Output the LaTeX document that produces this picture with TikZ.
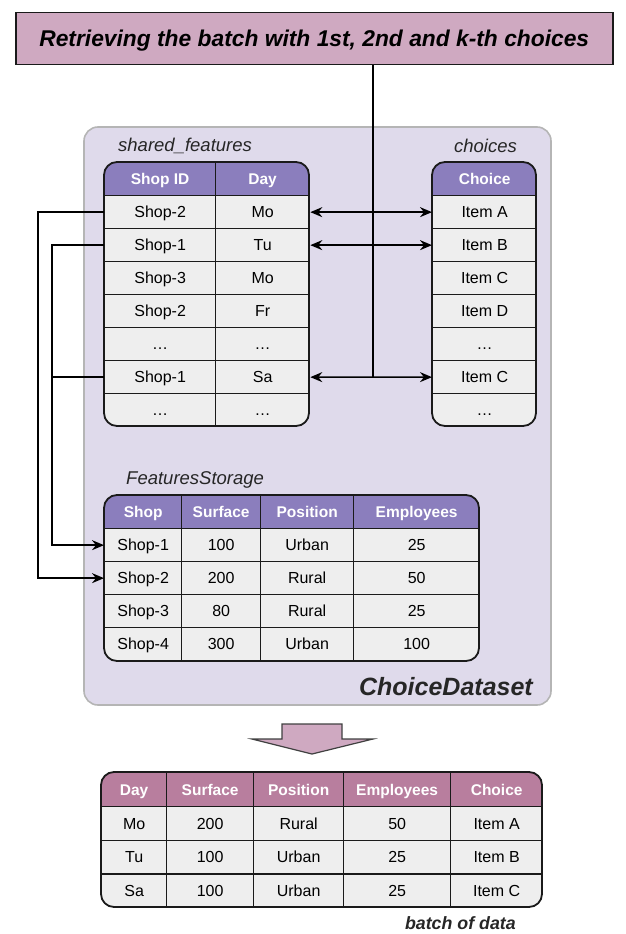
\documentclass[tikz,border=0pt]{standalone}
\usepackage{fontspec}
\setmainfont{Liberation Sans}
\usetikzlibrary{arrows.meta}
\definecolor{titlefill}{HTML}{CFA9C1}
\definecolor{dsfill}{HTML}{DFDAEB}
\definecolor{dsborder}{HTML}{B5B5B5}
\definecolor{hdrpurple}{HTML}{8B7EBD}
\definecolor{hdrmauve}{HTML}{B87E9E}
\definecolor{cellfill}{HTML}{EEEEEE}
\definecolor{linecol}{HTML}{1A1A1A}
\tikzset{
  cell/.style={draw=linecol, line width=1.3pt, fill=cellfill, inner sep=0pt, anchor=north west,
    text height=11.5pt, text depth=0pt,
    font=\fontsize{16}{19}\selectfont, text=black},
  hdrp/.style={cell, fill=hdrpurple, text=white, font=\fontsize{15.5}{19}\selectfont\bfseries},
  hdrm/.style={cell, fill=hdrmauve, text=white, font=\fontsize{15.5}{19}\selectfont\bfseries},
  tblborder/.style={draw=linecol, line width=1.8pt, rounded corners=13pt},
  conn/.style={draw=black, line width=1.5pt},
  tip/.style={-{Stealth[length=12pt,width=10pt,inset=4pt]}},
  dtip/.style={{Stealth[length=12pt,width=10pt,inset=4pt]}-{Stealth[length=12pt,width=10pt,inset=4pt]}},
  lbl/.style={inner sep=0pt, font=\fontsize{18.5}{22}\selectfont\itshape, text=black!85},
  biglbl/.style={inner sep=0pt, font=\fontsize{25}{30}\selectfont\bfseries\itshape, text=black!85},
}
\begin{document}
\begin{tikzpicture}[x=1pt,y=-1pt]
\useasboundingbox (0,0) rectangle (626,934);
% title
\node[draw=linecol, line width=1.5pt, fill=titlefill, minimum width=597pt, minimum height=52pt,
  inner sep=0pt, anchor=north west, text height=16pt, text depth=0pt,
  font=\fontsize{22.8}{27}\selectfont\bfseries\itshape] (title) at (15,12)
  {Retrieving the batch with 1st, 2nd and k-th choices};
% dataset box
\draw[fill=dsfill, draw=dsborder, line width=1.6pt, rounded corners=14pt] (84,127) rectangle (551,705);
\node[lbl, anchor=west] (sflbl) at (118,146) {shared\_features};
\node[lbl, anchor=east] (chlbl) at (517,146) {choices};
\node[lbl, anchor=west] (fslbl) at (126,480) {FeaturesStorage};
\node[biglbl, anchor=east] (dslbl) at (533,687) {ChoiceDataset};
% shared_features table
\begin{scope}
\clip[rounded corners=13pt] (104,162) rectangle (309,426);
\node[hdrp, minimum width=111pt, minimum height=33pt] (sfha) at (104,162) {Shop ID};
\node[hdrp, minimum width=94pt, minimum height=33pt] (sfhb) at (215,162) {Day};
\foreach \a/\b [count=\i] in {Shop-2/Mo, Shop-1/Tu, Shop-3/Mo, Shop-2/Fr, …/…, Shop-1/Sa, …/…}{
  \node[cell, minimum width=111pt, minimum height=33pt] (sf\i a) at (104,{195+33*(\i-1)}) {\a};
  \node[cell, minimum width=94pt, minimum height=33pt] (sf\i b) at (215,{195+33*(\i-1)}) {\b};
}
\end{scope}
\draw[tblborder] (104,162) rectangle (309,426);
% choices table
\begin{scope}
\clip[rounded corners=13pt] (432,162) rectangle (536,426);
\node[hdrp, minimum width=104pt, minimum height=33pt] (chh) at (432,162) {Choice};
\foreach \a [count=\i] in {Item A, Item B, Item C, Item D, …, Item C, …}{
  \node[cell, minimum width=104pt, minimum height=33pt] (ch\i) at (432,{195+33*(\i-1)}) {\a};
}
\end{scope}
\draw[tblborder] (432,162) rectangle (536,426);
% FeaturesStorage table
\begin{scope}
\clip[rounded corners=13pt] (104,495) rectangle (479,661);
\node[hdrp, minimum width=77pt, minimum height=33pt] (fsha) at (104,495) {Shop};
\node[hdrp, minimum width=79pt, minimum height=33pt] (fshb) at (181,495) {Surface};
\node[hdrp, minimum width=93pt, minimum height=33pt] (fshc) at (260,495) {Position};
\node[hdrp, minimum width=126pt, minimum height=33pt] (fshd) at (353,495) {Employees};
\foreach \a/\b/\c/\d [count=\i] in {Shop-1/100/Urban/25, Shop-2/200/Rural/50, Shop-3/80/Rural/25, Shop-4/300/Urban/100}{
  \node[cell, minimum width=77pt, minimum height=33pt] (fs\i a) at (104,{528+33*(\i-1)}) {\a};
  \node[cell, minimum width=79pt, minimum height=33pt] (fs\i b) at (181,{528+33*(\i-1)}) {\b};
  \node[cell, minimum width=93pt, minimum height=33pt] (fs\i c) at (260,{528+33*(\i-1)}) {\c};
  \node[cell, minimum width=126pt, minimum height=33pt] (fs\i d) at (353,{528+33*(\i-1)}) {\d};
}
\end{scope}
\draw[tblborder] (104,495) rectangle (479,661);
% connectors
\coordinate (jn) at (373,377);
\draw[conn] (title.south -| jn) -- (jn);
\draw[conn, tip] (jn) -- (ch6.west);
\draw[conn, tip] (jn) -- (sf6b.east);
\draw[conn, dtip] (sf1b.east) -- (ch1.west);
\draw[conn, dtip] (sf2b.east) -- (ch2.west);
\draw[conn, tip] (sf1a.west) -- ++(-66,0) |- (fs2a.west);
\draw[conn, tip] (sf2a.west) -- ++(-52,0) |- (fs1a.west);
\draw[conn] (sf6a.west) -- ++(-52,0);
% block arrow
\draw[fill=titlefill, draw=black!75, line width=1.2pt, line join=miter]
  (282,724) -- (342,724) -- (342,739) -- (373,739) -- (312,754) -- (252,739) -- (282,739) -- cycle;
% batch table
\begin{scope}
\clip[rounded corners=13pt] (101,772) rectangle (542,907);
\node[hdrm, minimum width=65pt, minimum height=34pt] (bha) at (101,772) {Day};
\node[hdrm, minimum width=87pt, minimum height=34pt] (bhb) at (166,772) {Surface};
\node[hdrm, minimum width=90pt, minimum height=34pt] (bhc) at (253,772) {Position};
\node[hdrm, minimum width=107pt, minimum height=34pt] (bhd) at (343,772) {Employees};
\node[hdrm, minimum width=92pt, minimum height=34pt] (bhe) at (450,772) {Choice};
\foreach \a/\b/\c/\d/\e [count=\i] in {Mo/200/Rural/50/Item A, Tu/100/Urban/25/Item B, Sa/100/Urban/25/Item C}{
  \node[cell, minimum width=65pt, minimum height=33.67pt] (b\i a) at (101,{806+33.67*(\i-1)}) {\a};
  \node[cell, minimum width=87pt, minimum height=33.67pt] (b\i b) at (166,{806+33.67*(\i-1)}) {\b};
  \node[cell, minimum width=90pt, minimum height=33.67pt] (b\i c) at (253,{806+33.67*(\i-1)}) {\c};
  \node[cell, minimum width=107pt, minimum height=33.67pt] (b\i d) at (343,{806+33.67*(\i-1)}) {\d};
  \node[cell, minimum width=92pt, minimum height=33.67pt] (b\i e) at (450,{806+33.67*(\i-1)}) {\e};
}
\end{scope}
\draw[tblborder] (101,772) rectangle (542,907);
\node[inner sep=0pt, anchor=east, font=\fontsize{17.8}{21}\selectfont\bfseries\itshape, text=black!85] (batchlbl) at (516,923) {batch of data};
\end{tikzpicture}
\end{document}
